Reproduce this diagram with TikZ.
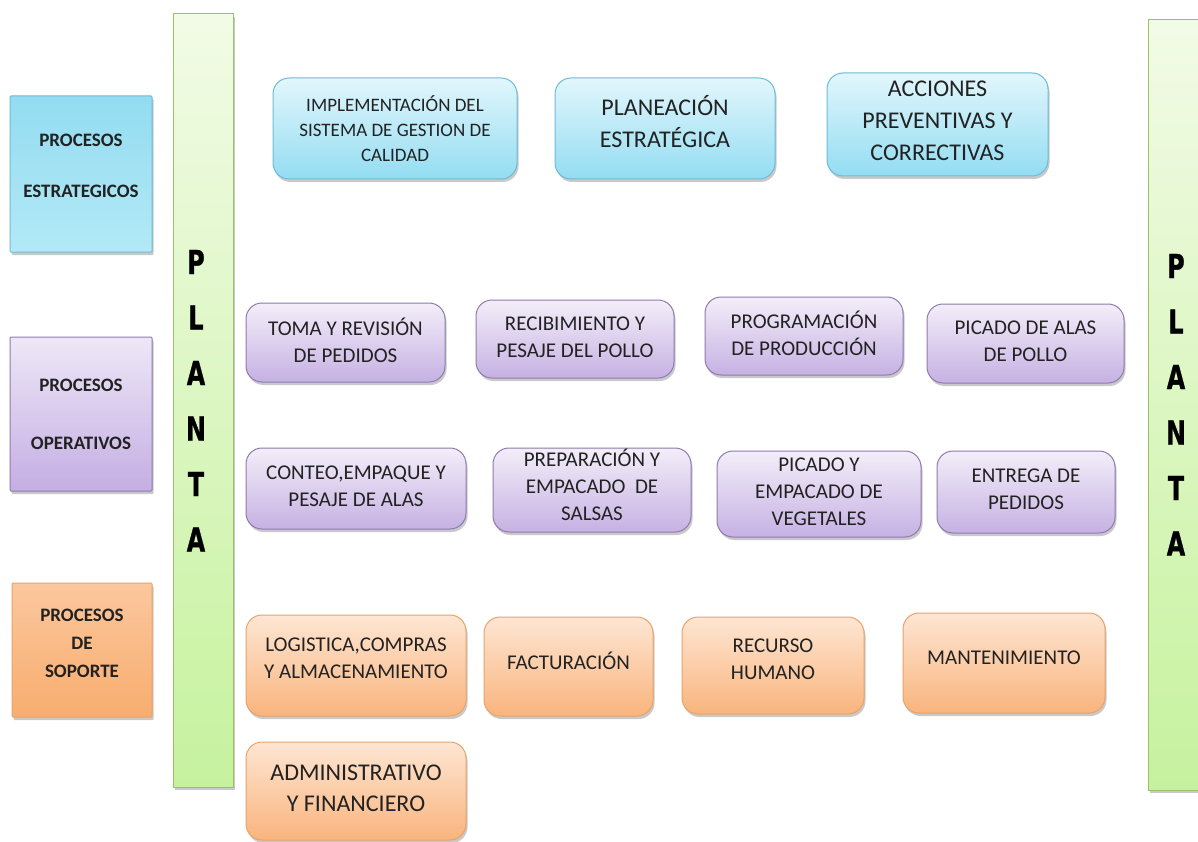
\documentclass[tikz,border=0pt]{standalone}
\usepackage{fontspec}
\setmainfont{Carlito}[BoldFont={Carlito Bold}]
\newfontfamily\plantafont{DejaVu Sans Bold}[FakeBold=1.2]
\usetikzlibrary{shadows}
\definecolor{txt}{HTML}{222222}
\definecolor{bluT}{HTML}{E2F6FC}
\definecolor{bluD}{HTML}{93DDF2}
\definecolor{bluB}{HTML}{6DBBD6}
\definecolor{catBT}{HTML}{93DCF1}
\definecolor{catBD}{HTML}{B3E9F6}
\definecolor{purT}{HTML}{F3EEF9}
\definecolor{purD}{HTML}{C6B1E3}
\definecolor{purB}{HTML}{8E7BAE}
\definecolor{catPT}{HTML}{EEE7F7}
\definecolor{catPD}{HTML}{C4AEE3}
\definecolor{orT}{HTML}{FEE6D3}
\definecolor{orD}{HTML}{F9B47D}
\definecolor{orB}{HTML}{E9A26A}
\definecolor{catOT}{HTML}{FBC79E}
\definecolor{catOD}{HTML}{F8AD6E}
\definecolor{grT}{HTML}{F2FBE6}
\definecolor{grD}{HTML}{C6F29E}
\definecolor{grB}{HTML}{9FBE6A}
\tikzset{
  shade/.style={drop shadow={shadow xshift=1.5pt,shadow yshift=-3pt,opacity=0.35,fill=black!60}},
  base/.style={shade, line width=1pt, align=center, text=txt, inner sep=0pt},
  rbox/.style={base, rounded corners=16pt, font=\fontsize{21}{27}\selectfont},
  big/.style={font=\fontsize{24}{32}\selectfont},
  blu/.style={rbox, draw=bluB, top color=bluT, bottom color=bluD},
  pur/.style={rbox, draw=purB, top color=purT, bottom color=purD},
  ora/.style={rbox, draw=orB, top color=orT, bottom color=orD},
  cat/.style={base, rounded corners=1pt, font=\fontsize{19}{22}\selectfont\bfseries,
     minimum width=142pt},
  catB/.style={cat, draw=bluB, top color=catBT, bottom color=catBD},
  catP/.style={cat, draw=purB, top color=catPT, bottom color=catPD},
  catO/.style={cat, draw=orB, top color=catOT, bottom color=catOD},
  bar/.style={shade, draw=grB, line width=1pt, top color=grT, bottom color=grD, inner sep=0pt},
  letter/.style={font=\plantafont\fontsize{33}{33}\selectfont, text=black, inner sep=0pt}
}
\newcommand{\plt}[1]{\scalebox{0.72}[1]{#1}}
\begin{document}
\begin{tikzpicture}[x=1pt,y=-1pt]
\fill[white] (0,0) rectangle (1198,842);
\useasboundingbox (0,0) rectangle (1198,842);

% PLANTA bars
\node[bar, minimum width=60pt, minimum height=773pt] (barL) at (203,400.5) {};
\node[bar, minimum width=60pt, minimum height=770pt] (barR) at (1178,405) {};
\foreach \l/\i in {P/0,L/1,A/2,N/3,T/4,A/5}{
  \node[letter] (pl\i) at (196,262+55.5*\i) {\plt{\l}};
  \node[letter] (pr\i) at (1176,266+55.5*\i) {\plt{\l}};
}

% category boxes
\node[catB, minimum height=156pt, text depth=16pt] (cEst) at (81,174) {PROCESOS\\[29pt]ESTRATEGICOS};
\node[catP, minimum height=154pt] (cOp) at (81,414) {PROCESOS\\[36pt]OPERATIVOS};
\node[catO, minimum width=140pt, minimum height=134pt, text depth=14pt,
      font=\fontsize{19}{28}\selectfont\bfseries] (cSop) at (82,650) {PROCESOS\\DE\\SOPORTE};

% strategic
\node[blu, minimum width=244pt, minimum height=101pt, font=\fontsize{19}{25}\selectfont] (s1) at (395,128.5)
  {IMPLEMENTACIÓN DEL\\SISTEMA DE GESTION DE\\CALIDAD};
\node[blu, big, minimum width=220pt, minimum height=101pt, text depth=14pt] (s2) at (665,128.5)
  {PLANEACIÓN\\ESTRATÉGICA};
\node[blu, big, minimum width=221pt, minimum height=103pt, text depth=8pt] (s3) at (937.5,124.5)
  {ACCIONES\\PREVENTIVAS Y\\CORRECTIVAS};

% operative row 1
\node[pur, minimum width=199pt, minimum height=79pt, text depth=4pt] (o1) at (345.5,342.5) {TOMA Y REVISIÓN\\DE PEDIDOS};
\node[pur, minimum width=198pt, minimum height=78pt, text depth=4pt] (o2) at (575,339) {RECIBIMIENTO Y\\PESAJE DEL POLLO};
\node[pur, minimum width=198pt, minimum height=78pt, text depth=6pt] (o3) at (804,336) {PROGRAMACIÓN\\DE PRODUCCIÓN};
\node[pur, minimum width=197pt, minimum height=79pt, text depth=4pt] (o4) at (1025.5,343.5) {PICADO DE ALAS\\DE POLLO};
% operative row 2
\node[pur, minimum width=220pt, minimum height=81pt, text depth=4pt] (o5) at (356,488.5) {CONTEO,EMPAQUE Y\\PESAJE DE ALAS};
\node[pur, minimum width=198pt, minimum height=84pt, text depth=10pt] (o6) at (592,490) {PREPARACIÓN Y\\EMPACADO~~DE\\SALSAS};
\node[pur, minimum width=204pt, minimum height=86pt, text depth=4pt] (o7) at (819,494) {PICADO Y\\EMPACADO DE\\VEGETALES};
\node[pur, minimum width=178pt, minimum height=82pt, text depth=6pt] (o8) at (1026,492) {ENTREGA DE\\PEDIDOS};

% support
\node[ora, minimum width=220pt, minimum height=101pt, text depth=14pt] (p1) at (356,665.5) {LOGISTICA,COMPRAS\\Y ALMACENAMIENTO};
\node[ora, minimum width=169pt, minimum height=99pt, text depth=12pt] (p2) at (568.5,666.5) {FACTURACIÓN};
\node[ora, minimum width=182pt, minimum height=97pt, text depth=12pt] (p3) at (773,665.5) {RECURSO\\HUMANO};
\node[ora, minimum width=202pt, minimum height=100pt, text depth=10pt] (p4) at (1004,663) {MANTENIMIENTO};
\node[ora, big, minimum width=220pt, minimum height=98pt, text depth=6pt,
      font=\fontsize{24}{31}\selectfont] (p5) at (356,791) {ADMINISTRATIVO\\Y FINANCIERO};
\end{tikzpicture}
\end{document}
